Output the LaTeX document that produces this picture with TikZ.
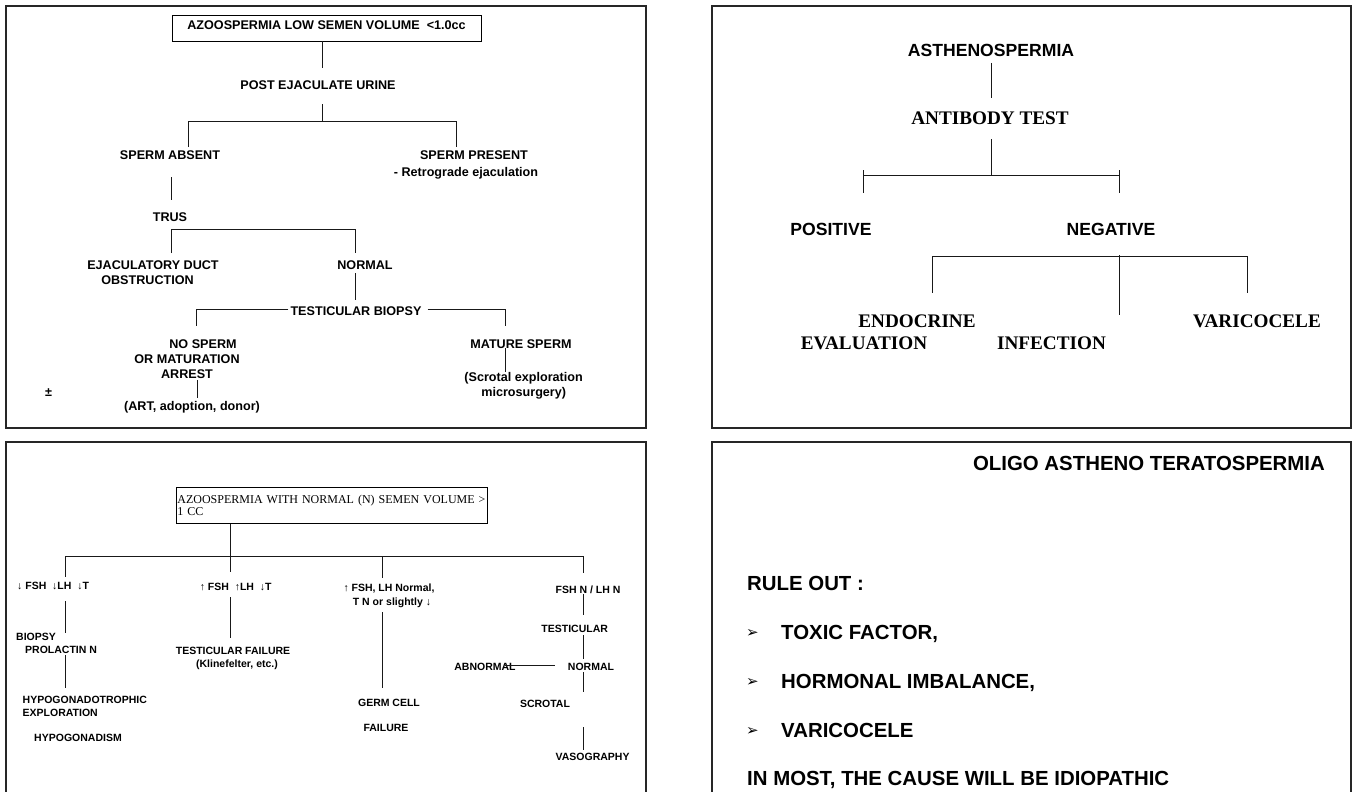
\documentclass[tikz,border=0pt]{standalone}
\usepackage{fontspec}
\setmainfont{Liberation Sans}
\newfontfamily\tms{Liberation Serif}
\newfontfamily\dvs{DejaVu Sans}
\begin{document}
\begin{tikzpicture}[x=1pt,y=-1pt,
  panel/.style={line width=1.6pt, draw=black!85},
  conn/.style={line width=0.9pt, draw=black!90},
  tl/.style={font=\fontsize{12.6}{14}\selectfont\bfseries, inner sep=0pt, text height=9pt, text depth=0pt},
  trs/.style={font=\fontsize{17.6}{20}\selectfont\bfseries, inner sep=0pt, text height=12.6pt, text depth=0pt},
  trr/.style={font=\fontsize{19.2}{22}\selectfont\tms\bfseries, inner sep=0pt, text height=12.7pt, text depth=0pt},
  bls/.style={font=\fontsize{10.5}{12}\selectfont\bfseries, inner sep=0pt, text height=7.5pt, text depth=0pt},
  brs/.style={font=\fontsize{20.4}{24}\selectfont\bfseries, inner sep=0pt, text height=14.6pt, text depth=0pt},
  bullet/.style={font=\fontsize{15}{17}\selectfont\dvs, inner sep=0pt, text height=10pt, text depth=0pt},
]
\useasboundingbox (0,0) rectangle (1352,792);
\clip (0,0) rectangle (1352,792);
\fill[white] (0,0) rectangle (1352,792);

% ---------- panels ----------
\draw[panel] (6,6) rectangle (646,428);
\draw[panel] (712,6) rectangle (1351,428);
\draw[panel] (6,800) -- (6,442) -- (646,442) -- (646,800);
\draw[panel] (712,800) -- (712,442) -- (1351,442) -- (1351,800);

% ---------- top left ----------
\node[tl, draw, line width=0.8pt, minimum width=309pt, minimum height=26pt, text depth=6pt] (a1) at (326.5,28) {AZOOSPERMIA LOW SEMEN VOLUME \ <1.0cc};
\node[tl] (a2) at (318,85) {POST EJACULATE URINE};
\node[tl] (a3) at (170,155) {SPERM ABSENT};
\node[tl] (a4) at (474,155) {SPERM PRESENT};
\node[tl] (a4b) at (466,171.5) {- Retrograde ejaculation};
\node[tl] (a5) at (170,217) {TRUS};
\node[tl] (a6) at (153,265) {EJACULATORY DUCT};
\node[tl] (a6b) at (147.5,280) {OBSTRUCTION};
\node[tl] (a7) at (365,265) {NORMAL};
\node[tl] (a8) at (356,311) {TESTICULAR BIOPSY};
\node[tl] (a9) at (203,344) {NO SPERM};
\node[tl] (a9b) at (187,359) {OR MATURATION};
\node[tl] (a9c) at (187,374) {ARREST};
\node[tl] (a10) at (192,406) {(ART, adoption, donor)};
\node[tl] (pm) at (48.6,392) {\textpm};
\node[tl] (a11) at (521,344) {MATURE SPERM};
\node[tl] (a12) at (523.6,377) {(Scrotal exploration};
\node[tl] (a12b) at (523.7,392) {microsurgery)};

\coordinate (p1) at (322,68);
\coordinate (p2a) at (322,104);
\coordinate (p2) at (322,121);
\coordinate (p3l) at (188,121);
\coordinate (p3r) at (456,121);
\coordinate (p3le) at (188,147);
\coordinate (p3re) at (456,147);
\coordinate (p4a) at (171.7,177);
\coordinate (p4b) at (171.7,200);
\coordinate (p5l) at (171.5,229);
\coordinate (p5r) at (355.5,229);
\coordinate (p5le) at (171.5,253);
\coordinate (p5re) at (355.5,253);
\coordinate (p6a) at (355.5,273);
\coordinate (p6b) at (355.5,300);
\coordinate (p7l) at (196,309);
\coordinate (p7le) at (196,326);
\coordinate (p7r) at (505,309);
\coordinate (p7re) at (505,326);
\coordinate (p8a) at (197,380);
\coordinate (p8b) at (197,398);
\coordinate (p9a) at (505,348);
\coordinate (p9b) at (505,372);

\draw[conn] (a1.south -| p1) -- (p1);
\draw[conn] (p2a) -- (p2);
\draw[conn] (p3le) -- (p3l) -- (p3r) -- (p3re);
\draw[conn] (p4a) -- (p4b);
\draw[conn] (p5le) -- (p5l) -- (p5r) -- (p5re);
\draw[conn] (p6a) -- (p6b);
\draw[conn] (a8.west |- p7l) ++(-2,0) -- (p7l) -- (p7le);
\draw[conn] (a8.east |- p7r) ++(6,0) -- (p7r) -- (p7re);
\draw[conn] (p8a) -- (p8b);
\draw[conn] (p9a) -- (p9b);

% ---------- top right ----------
\node[trs] (b1) at (991,50) {ASTHENOSPERMIA};
\node[trr] (b2) at (990,118) {ANTIBODY TEST};
\node[trs] (b3) at (831,229) {POSITIVE};
\node[trs] (b4) at (1111,229) {NEGATIVE};
\node[trr] (b5) at (917,320.7) {ENDOCRINE};
\node[trr] (b5b) at (864,343) {EVALUATION};
\node[trr] (b6) at (1051.5,343) {INFECTION};
\node[trr] (b7) at (1257,320.7) {VARICOCELE};

\coordinate (q1a) at (991,63);
\coordinate (q1b) at (991,98);
\coordinate (q2a) at (991,139);
\coordinate (q2b) at (991,175);
\coordinate (q3l) at (863,175);
\coordinate (q3r) at (1119,175);
\coordinate (q3lt) at (863,170);
\coordinate (q3lb) at (863,193);
\coordinate (q3rt) at (1119,170);
\coordinate (q3rb) at (1119,193);
\coordinate (q4l) at (932.7,256.7);
\coordinate (q4m) at (1119,256.7);
\coordinate (q4r) at (1247,256.7);
\coordinate (q4le) at (932.7,292.7);
\coordinate (q4mt) at (1119,255);
\coordinate (q4me) at (1119,315);
\coordinate (q4re) at (1247,292.7);

\draw[conn] (q1a) -- (q1b);
\draw[conn] (q2a) -- (q2b);
\draw[conn] (q3l) -- (q3r);
\draw[conn] (q3lt) -- (q3lb);
\draw[conn] (q3rt) -- (q3rb);
\draw[conn] (q4le) -- (q4l) -- (q4r) -- (q4re);
\draw[conn] (q4mt) -- (q4me);

% ---------- bottom left ----------
\node[draw, line width=0.8pt, anchor=north west, minimum width=311pt, minimum height=36pt,
      text width=309pt, align=left, inner xsep=1pt, inner ysep=0pt,
      font=\fontsize{12}{12.3}\selectfont\tms] (c0) at (176,487)
      {AZOOSPERMIA WITH NORMAL (N) SEMEN VOLUME >\\1 CC};
\node[bls, anchor=west] (c1) at (17,586) {↓ FSH \ ↓LH \ ↓T};
\node[bls, anchor=west] (c1a) at (16,637) {BIOPSY};
\node[bls, anchor=west] (c1b) at (25,650) {PROLACTIN N};
\node[bls, anchor=west] (c1c) at (22.5,700) {HYPOGONADOTROPHIC};
\node[bls, anchor=west] (c1d) at (22.5,712.3) {EXPLORATION};
\node[bls] (c1e) at (78,738) {HYPOGONADISM};
\node[bls] (c2) at (235.7,586.5) {↑ FSH \ ↑LH \ ↓T};
\node[bls] (c2a) at (233,651) {TESTICULAR FAILURE};
\node[bls] (c2b) at (237,664) {(Klinefelter, etc.)};
\node[bls] (c3) at (389,588) {↑ FSH, LH Normal,};
\node[bls] (c3b) at (392,601.7) {T N or slightly ↓};
\node[bls] (c3c) at (389,703) {GERM CELL};
\node[bls] (c3d) at (386,728) {FAILURE};
\node[bls] (c4) at (588,590) {FSH N / LH N};
\node[bls] (c4a) at (574.7,628.3) {TESTICULAR};
\node[bls] (c4b) at (591,667) {NORMAL};
\node[bls] (c4c) at (485,667) {ABNORMAL};
\node[bls] (c4d) at (545,704) {SCROTAL};
\node[bls] (c4e) at (592.6,757) {VASOGRAPHY};

\coordinate (r0) at (230,556);
\coordinate (r0l) at (65,556);
\coordinate (r0r) at (583.3,556);
\coordinate (r1) at (382.5,556);
\coordinate (r0le) at (65,577);
\coordinate (r0e) at (230,572);
\coordinate (r1e) at (382.5,578);
\coordinate (r0re) at (583.3,573);
\draw[conn] (c0.south -| r0) -- (r0);
\draw[conn] (r0l) -- (r0r);
\draw[conn] (r0l) -- (r0le);
\draw[conn] (r0) -- (r0e);
\draw[conn] (r1) -- (r1e);
\draw[conn] (r0r) -- (r0re);
\coordinate (r2a) at (65,601);
\coordinate (r2b) at (65,633);
\coordinate (r2c) at (65,655);
\coordinate (r2d) at (65,688);
\draw[conn] (r2a) -- (r2b);
\draw[conn] (r2c) -- (r2d);
\coordinate (r3a) at (230,597);
\coordinate (r3b) at (230,638);
\draw[conn] (r3a) -- (r3b);
\coordinate (r4a) at (382.5,612);
\coordinate (r4b) at (382.5,688);
\draw[conn] (r4a) -- (r4b);
\coordinate (r5a) at (583.3,594);
\coordinate (r5b) at (583.3,615);
\coordinate (r5c) at (583.3,635);
\coordinate (r5d) at (583.3,659);
\coordinate (r5e) at (583.3,672);
\coordinate (r5f) at (583.3,692);
\coordinate (r5g) at (583.3,727);
\coordinate (r5h) at (583.3,750);
\draw[conn] (r5a) -- (r5b);
\draw[conn] (r5c) -- (r5d);
\draw[conn] (r5e) -- (r5f);
\draw[conn] (r5g) -- (r5h);
\coordinate (r6a) at (505,665);
\coordinate (r6b) at (555,665);
\draw[conn] (r6a) -- (r6b);

% ---------- bottom right ----------
\node[brs, anchor=east] (d0) at (1325,463) {OLIGO ASTHENO TERATOSPERMIA};
\node[brs, anchor=west] (d1) at (747,583) {RULE OUT :};
\node[bullet, anchor=west] (d2m) at (746,632) {➢};
\node[brs, anchor=west] (d2) at (781,632) {TOXIC FACTOR,};
\node[bullet, anchor=west] (d3m) at (746,681) {➢};
\node[brs, anchor=west] (d3) at (781,681) {HORMONAL IMBALANCE,};
\node[bullet, anchor=west] (d4m) at (746,730) {➢};
\node[brs, anchor=west] (d4) at (781,730) {VARICOCELE};
\node[brs, anchor=west] (d5) at (747,778) {IN MOST, THE CAUSE WILL BE IDIOPATHIC};
\end{tikzpicture}
\end{document}
